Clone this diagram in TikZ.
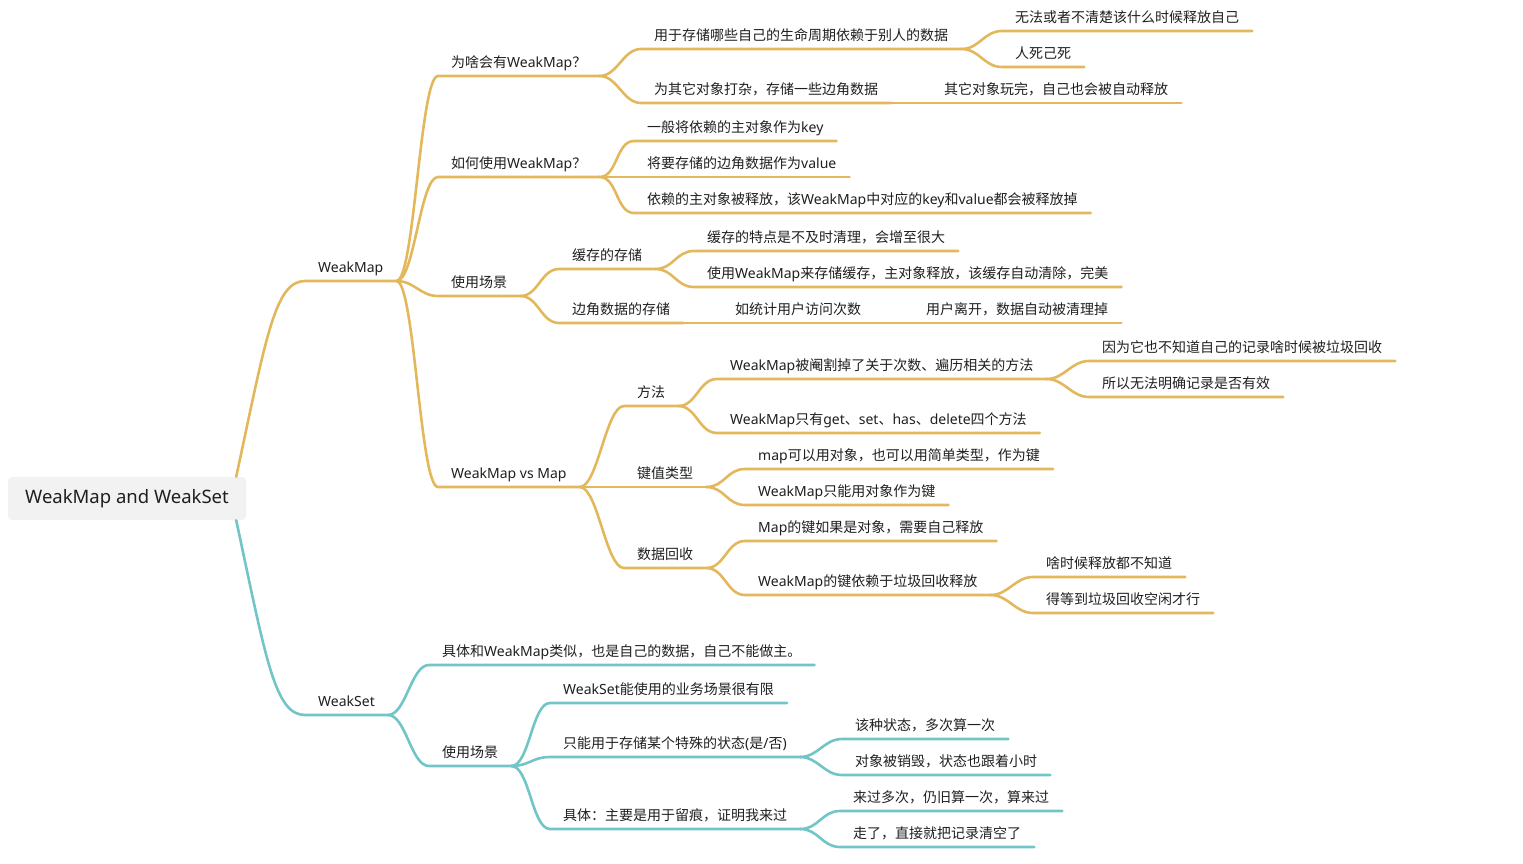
\documentclass[tikz,border=0pt]{standalone}
\usepackage{fontspec}
\setmainfont{Noto Sans}
\newfontfamily\cjk{Noto Sans CJK SC}
\XeTeXinterchartokenstate=1
\newXeTeXintercharclass\cjkcls
\newcount\cjkc
\cjkc="3000 \loop \XeTeXcharclass\cjkc=\cjkcls \advance\cjkc by 1 \ifnum\cjkc<"3040 \repeat
\cjkc="4E00 \loop \XeTeXcharclass\cjkc=\cjkcls \advance\cjkc by 1 \ifnum\cjkc<"A000 \repeat
\cjkc="FF00 \loop \XeTeXcharclass\cjkc=\cjkcls \advance\cjkc by 1 \ifnum\cjkc<"FFF0 \repeat
\XeTeXinterchartoks 0 \cjkcls = {\begingroup\cjk}
\XeTeXinterchartoks 4095 \cjkcls = {\begingroup\cjk}
\XeTeXinterchartoks \cjkcls 0 = {\endgroup}
\XeTeXinterchartoks \cjkcls 4095 = {\endgroup}

\definecolor{wmcol}{RGB}{227,184,92}
\definecolor{wscol}{RGB}{114,197,199}
\tikzset{
  topic/.style={anchor=south west, inner xsep=13pt, inner ysep=5pt,
    text height=11pt, text depth=3pt, text=black!88,
    font=\fontsize{14pt}{16pt}\selectfont},
  wmline/.style={draw=wmcol, line width=2.6pt, line cap=round},
  wsline/.style={draw=wscol, line width=2.6pt, line cap=round}
}

\begin{document}
\begin{tikzpicture}[x=1pt,y=-1pt]
\useasboundingbox (0,0) rectangle (1523,863);

\node[fill=black!5, rounded corners=4pt, minimum width=238pt, minimum height=43pt,
  text=black!88, font=\fontsize{18.5pt}{22pt}\selectfont] (root) at (127,498.5) {WeakMap and WeakSet};

\node[topic] (wm) at (305,281) {WeakMap};
\node[topic] (ws) at (305,715) {WeakSet};

\node[topic] (why) at (438,76) {为啥会有WeakMap？};
\node[topic] (how) at (438,177) {如何使用WeakMap？};
\node[topic] (use1) at (438,296) {使用场景};
\node[topic] (vs) at (438,487) {WeakMap vs Map};

\node[topic] (life) at (641,49) {用于存储哪些自己的生命周期依赖于别人的数据};
\node[topic] (edge) at (641,103) {为其它对象打杂，存储一些边角数据};
\node[topic] (unknown) at (1002,31) {无法或者不清楚该什么时候释放自己};
\node[topic] (die) at (1002,67) {人死己死};
\node[topic] (free) at (931,103) {其它对象玩完，自己也会被自动释放};

\node[topic] (key) at (634,141) {一般将依赖的主对象作为key};
\node[topic] (value) at (634,177) {将要存储的边角数据作为value};
\node[topic] (gone) at (634,213) {依赖的主对象被释放，该WeakMap中对应的key和value都会被释放掉};

\node[topic] (cache) at (559,269) {缓存的存储};
\node[topic] (side) at (559,323) {边角数据的存储};
\node[topic] (cachea) at (694,251) {缓存的特点是不及时清理，会增至很大};
\node[topic] (cacheb) at (694,287) {使用WeakMap来存储缓存，主对象释放，该缓存自动清除，完美};
\node[topic] (visit) at (722,323) {如统计用户访问次数};
\node[topic] (leave) at (913,323) {用户离开，数据自动被清理掉};

\node[topic] (meth) at (624,406) {方法};
\node[topic] (ktype) at (624,487) {键值类型};
\node[topic] (gc) at (624,568) {数据回收};
\node[topic] (cut) at (717,379) {WeakMap被阉割掉了关于次数、遍历相关的方法};
\node[topic] (four) at (717,433) {WeakMap只有get、set、has、delete四个方法};
\node[topic] (nogc) at (1089,361) {因为它也不知道自己的记录啥时候被垃圾回收};
\node[topic] (valid) at (1089,397) {所以无法明确记录是否有效};
\node[topic] (mapkey) at (745,469) {map可以用对象，也可以用简单类型，作为键};
\node[topic] (wmkey) at (745,505) {WeakMap只能用对象作为键};
\node[topic] (mapgc) at (745,541) {Map的键如果是对象，需要自己释放};
\node[topic] (wmgc) at (745,595) {WeakMap的键依赖于垃圾回收释放};
\node[topic] (when) at (1033,577) {啥时候释放都不知道};
\node[topic] (idle) at (1033,613) {得等到垃圾回收空闲才行};

\node[topic] (like) at (429,665) {具体和WeakMap类似，也是自己的数据，自己不能做主。};
\node[topic] (use2) at (429,766) {使用场景};
\node[topic] (limit) at (550,703) {WeakSet能使用的业务场景很有限};
\node[topic] (state) at (550,757) {只能用于存储某个特殊的状态(是/否)};
\node[topic] (trace) at (550,829) {具体：主要是用于留痕，证明我来过};
\node[topic] (once) at (842,739) {该种状态，多次算一次};
\node[topic] (gone2) at (842,775) {对象被销毁，状态也跟着小时};
\node[topic] (came) at (840,811) {来过多次，仍旧算一次，算来过};
\node[topic] (clear) at (840,847) {走了，直接就把记录清空了};

\draw[wmline] ([xshift=-10pt]root.north east) .. controls +(30,-140) and +(-30,0) .. (wm.south west) -- (wm.south east);
\draw[wsline] ([xshift=-10pt]root.south east) .. controls +(30,140) and +(-30,0) .. (ws.south west) -- (ws.south east);

\foreach \p/\c in {wm/why, wm/how, wm/use1, wm/vs, why/life, why/edge, life/unknown, life/die,
  edge/free, how/key, how/value, how/gone, use1/cache, use1/side, cache/cachea, cache/cacheb,
  side/visit, visit/leave, vs/meth, vs/ktype, vs/gc, meth/cut, meth/four, cut/nogc, cut/valid,
  ktype/mapkey, ktype/wmkey, gc/mapgc, gc/wmgc, wmgc/when, wmgc/idle}
  \draw[wmline] (\p.south east) .. controls +(18,0) and +(-18,0) .. (\c.south west) -- (\c.south east);

\foreach \p/\c in {ws/like, ws/use2, use2/limit, use2/state, use2/trace, state/once, state/gone2,
  trace/came, trace/clear}
  \draw[wsline] (\p.south east) .. controls +(18,0) and +(-18,0) .. (\c.south west) -- (\c.south east);
\end{tikzpicture}
\end{document}
